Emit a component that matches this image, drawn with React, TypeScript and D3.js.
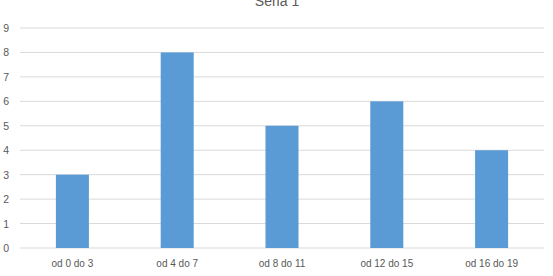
import React from "react";
import * as d3 from "d3";

const categories = ["od 0 do 3", "od 4 do 7", "od 8 do 11", "od 12 do 15", "od 16 do 19"];
const values = [3, 8, 5, 6, 4];
const yTicks = [0, 1, 2, 3, 4, 5, 6, 7, 8, 9];
const title = "Seria 1";

export default function App() {
  const W = 553, H = 276;
  const left = 20, right = 544, top = 28, bottom = 248;
  const x = d3.scaleBand<string>().domain(categories).range([left, right]).padding(0);
  const y = d3.scaleLinear().domain([0, 9]).range([bottom, top]);
  const bw = x.bandwidth() * 0.315;
  const font = "'Liberation Sans', Arial, sans-serif";
  return (
    <svg width={W} height={H} style={{ position: "absolute", left: 0, top: 0, background: "#fff" }}>
      <text x={277} y={6} textAnchor="middle" fontFamily={font} fontSize={14} fill="#595959">{title}</text>
      {yTicks.map((t) => (
        <g key={t}>
          <line x1={left} x2={right} y1={y(t)} y2={y(t)} stroke="#D9D9D9" strokeWidth={1} />
          <text x={9} y={y(t) + 4} textAnchor="end" fontFamily={font} fontSize={10.5} fill="#595959">{t}</text>
        </g>
      ))}
      {values.map((v, i) => {
        const c = x(categories[i])! + x.bandwidth() / 2;
        return <rect key={i} x={c - bw / 2} y={y(v)} width={bw} height={y(0) - y(v)} fill="#5B9BD5" />;
      })}
      {categories.map((c) => (
        <text key={c} x={x(c)! + x.bandwidth() / 2} y={267} textAnchor="middle" fontFamily={font} fontSize={10} fill="#595959">{c}</text>
      ))}
    </svg>
  );
}
